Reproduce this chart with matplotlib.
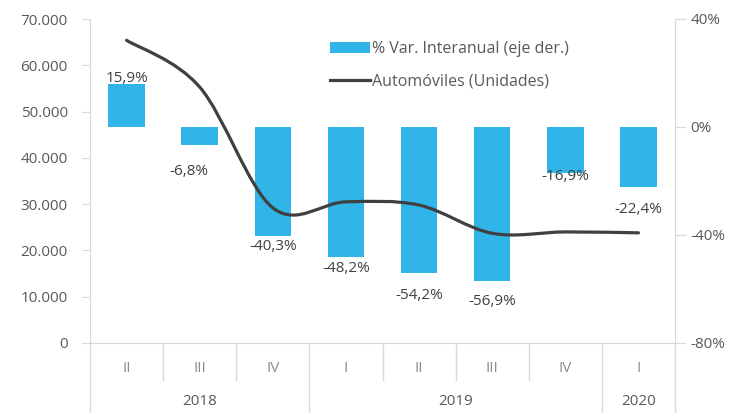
import matplotlib
matplotlib.use("Agg")
import matplotlib.pyplot as plt
from matplotlib.path import Path
from matplotlib.patches import PathPatch, Patch
from matplotlib.lines import Line2D
from matplotlib.ticker import FuncFormatter, MultipleLocator

plt.rcParams['font.family'] = ['Open Sans', 'DejaVu Sans']

# --- data ---
quarters = ['II', 'III', 'IV', 'I', 'II', 'III', 'IV', 'I']
years = ['2018', '2019', '2020']
year_counts = [3, 4, 1]
var_pct = [15.9, -6.8, -40.3, -48.2, -54.2, -56.9, -16.9, -22.4]
autos = [65400, 55300, 29200, 30500, 29800, 23700, 24000, 23800]

# label nudges (pixels) - the original labels were moved by hand
label_dx = [0, -11, 0, 0, 0, 0, 0, 0]
label_dy = [6, -26, -11, -11, -22, -21, -4, -22]

bar_color = '#31B5E8'
line_color = '#404040'
axis_gray = '#D9D9D9'
text_gray = '#595959'
fs = 11

fig = plt.figure(figsize=(7.33, 4.13), dpi=100)
ax = fig.add_axes([90 / 733, 1 - 343 / 413, 585 / 733, 324 / 413])
ax2 = ax.twinx()

x = list(range(len(quarters)))

# bars on right axis
ax2.bar(x, var_pct, width=0.5, color=bar_color, zorder=2)
ax2.set_ylim(-80, 40)
ax2.yaxis.set_major_locator(MultipleLocator(40))
ax2.yaxis.set_major_formatter(FuncFormatter(lambda v, p: '{:.0f}%'.format(v)))

for i in x:
    v = var_pct[i]
    ax2.annotate(('{:.1f}%'.format(v)).replace('.', ','), (i, v),
                 xytext=(label_dx[i], label_dy[i]), textcoords='offset pixels',
                 ha='center', va='center', fontsize=fs, color=line_color)

# smoothed line (excel style) on left axis
verts = [(x[0], autos[0])]
codes = [Path.MOVETO]
n = len(autos)
for i in range(n - 1):
    p0 = (x[max(i - 1, 0)], autos[max(i - 1, 0)])
    p1 = (x[i], autos[i])
    p2 = (x[i + 1], autos[i + 1])
    p3 = (x[min(i + 2, n - 1)], autos[min(i + 2, n - 1)])
    c1 = (p1[0] + (p2[0] - p0[0]) / 6, p1[1] + (p2[1] - p0[1]) / 6)
    c2 = (p2[0] - (p3[0] - p1[0]) / 6, p2[1] - (p3[1] - p1[1]) / 6)
    verts += [c1, c2, p2]
    codes += [Path.CURVE4, Path.CURVE4, Path.CURVE4]
ax.add_patch(PathPatch(Path(verts, codes), fill=False, edgecolor=line_color,
                       lw=2.3, capstyle='round', zorder=3))

ax.set_zorder(ax2.get_zorder() + 1)
ax.patch.set_visible(False)

ax.set_xlim(-0.5, len(quarters) - 0.5)
ax.set_ylim(0, 70000)
ax.yaxis.set_major_locator(MultipleLocator(10000))
ax.yaxis.set_major_formatter(FuncFormatter(lambda v, p: '{:,.0f}'.format(v).replace(',', '.')))

for a in (ax, ax2):
    a.spines['top'].set_visible(False)
    for s in ('left', 'right', 'bottom'):
        a.spines[s].set_color(axis_gray)
    a.tick_params(axis='y', colors=axis_gray, labelcolor=text_gray, labelsize=fs)
ax.spines['right'].set_visible(False)
ax2.spines['left'].set_visible(False)
ax.tick_params(axis='y', pad=10, length=6)
ax2.tick_params(axis='y', pad=3, length=8)

# category axis
ax.set_xticks(x)
ax.set_xticklabels(quarters)
ax.tick_params(axis='x', length=0, pad=13, labelcolor='#8C8C8C', labelsize=fs)

tr = ax.get_xaxis_transform()
year_edges = [-0.5]
for c in year_counts:
    year_edges.append(year_edges[-1] + c)
for b in range(len(quarters) + 1):
    pos = b - 0.5
    bottom = -0.216 if pos in year_edges else -0.114
    ax.plot([pos, pos], [0, bottom], transform=tr, color=axis_gray, lw=1, clip_on=False)
for j, yr in enumerate(years):
    mid = (year_edges[j] + year_edges[j + 1]) / 2
    ax.text(mid, -0.18, yr, transform=tr, ha='center', va='center',
            fontsize=fs, color=text_gray)

handles = [Patch(facecolor=bar_color, edgecolor='none'),
           Line2D([0], [0], color=line_color, lw=2.3)]
ax.legend(handles, ['% Var. Interanual (eje der.)', 'Automóviles (Unidades)'],
          loc='upper left', bbox_to_anchor=(330 / 733, 1 - 41 / 413),
          bbox_transform=fig.transFigure, frameon=False, borderpad=0,
          borderaxespad=0, handlelength=2.5, handletextpad=0.15,
          labelspacing=1.05, fontsize=11.5, labelcolor=text_gray)

fig.savefig('out.png', dpi=100)
